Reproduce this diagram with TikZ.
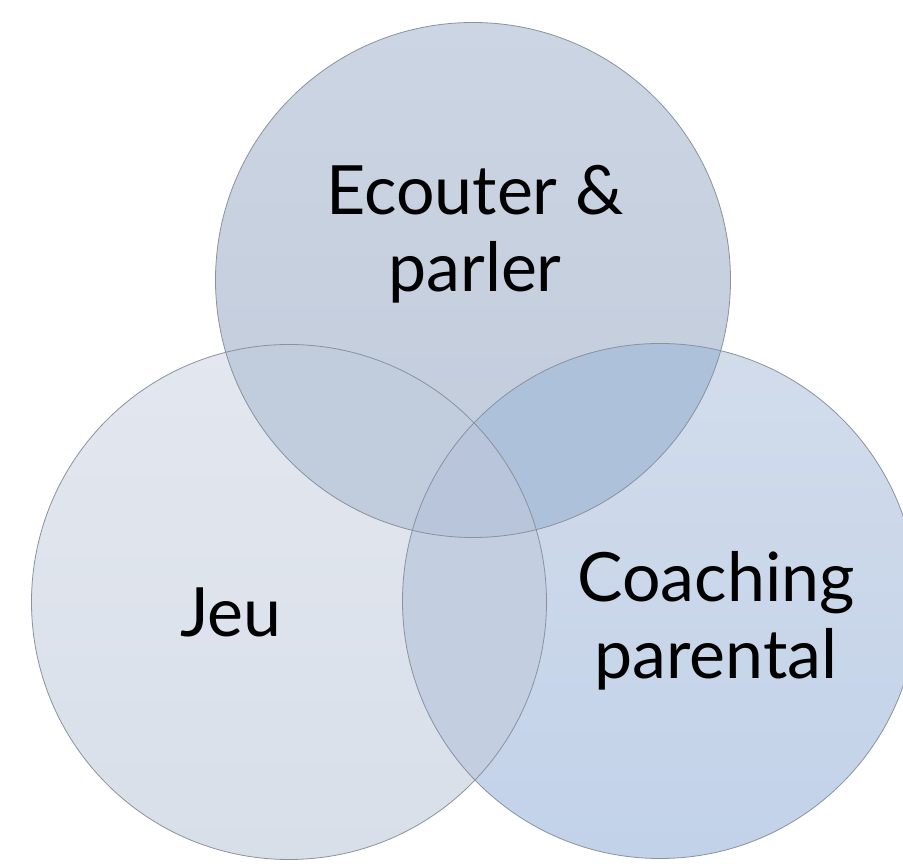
\documentclass[tikz,border=0pt]{standalone}
\usepackage{fontspec}
\setmainfont{Lato}
\usetikzlibrary{positioning}
\definecolor{ringline}{HTML}{8A929E}
\definecolor{toptop}{HTML}{CCD5E3}
\definecolor{topbot}{HTML}{C1CBDB}
\definecolor{jeutop}{HTML}{E3E7EF}
\definecolor{jeubot}{HTML}{D8DFE9}
\definecolor{coachtop}{HTML}{D2DCEB}
\definecolor{coachbot}{HTML}{C2D2E9}
\definecolor{topjeu}{HTML}{C1CCDC}
\definecolor{topcoach}{HTML}{AEC1DB}
\definecolor{jeucoach}{HTML}{C3CFE1}
\definecolor{allthree}{HTML}{B8C5DA}
\tikzset{
  ring/.style={draw=ringline,line width=0.8pt},
  word/.style={font=\fontsize{68}{77}\selectfont,align=center,text=black,inner sep=0pt}
}

\begin{document}
\begin{tikzpicture}[x=1pt,y=1pt]
  \useasboundingbox (0,0) rectangle (903,864);
  \def\rad{257.5}
  \coordinate (ctop) at (473,584);
  \coordinate (cleft) at (289,262);
  \coordinate (cright) at (660,263);
  % the three circles
  \shade[top color=jeutop,bottom color=jeubot] (cleft) circle (\rad);
  \shade[top color=coachtop,bottom color=coachbot] (cright) circle (\rad);
  \shade[top color=toptop,bottom color=topbot] (ctop) circle (\rad);
  % overlaps
  \begin{scope}
    \clip (cleft) circle (\rad);
    \fill[jeucoach] (cright) circle (\rad);
  \end{scope}
  \begin{scope}
    \clip (ctop) circle (\rad);
    \fill[topjeu] (cleft) circle (\rad);
    \fill[topcoach] (cright) circle (\rad);
    \clip (cleft) circle (\rad);
    \fill[allthree] (cright) circle (\rad);
  \end{scope}
  % outlines
  \draw[ring] (cleft) circle (\rad);
  \draw[ring] (cright) circle (\rad);
  \draw[ring] (ctop) circle (\rad);
  % labels
  \node[word] (ecouter) at (475,630) {Ecouter \&\\parler};
  \node[word,anchor=base] (jeu) at (231,227) {Jeu};
  \node[word] (coaching) at (716,243) {Coaching\\parental};
\end{tikzpicture}
\end{document}
